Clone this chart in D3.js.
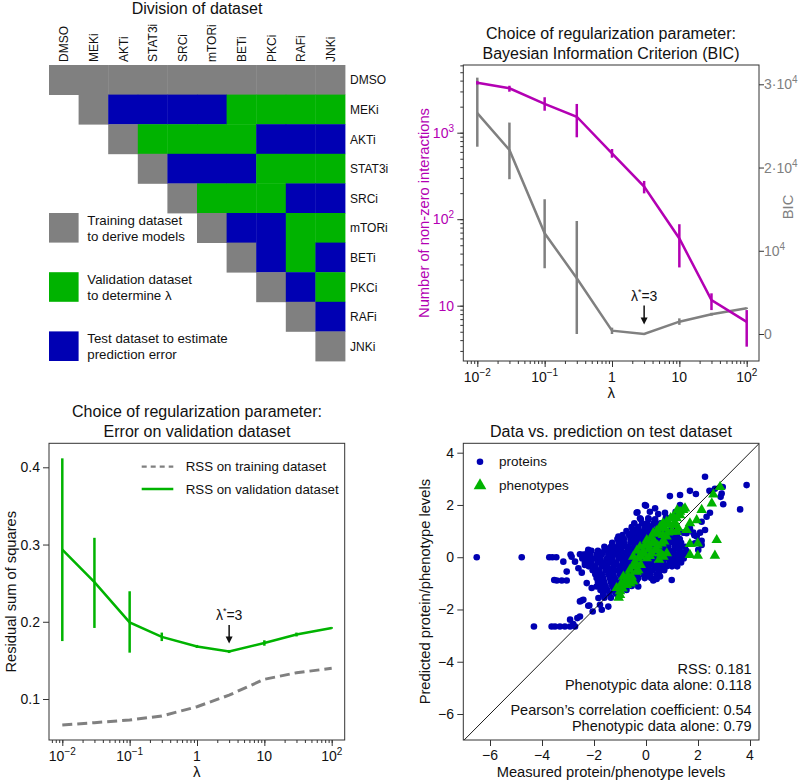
<!DOCTYPE html>
<html>
<head>
<meta charset="utf-8">
<script src="https://cdn.jsdelivr.net/npm/d3@7"></script>
<style>
  body { margin: 0; background: #fff; }
  svg { font-family: "Liberation Sans", Arial, Helvetica, sans-serif; }
  .axis path.domain { display: none; }
  .axis line { stroke: #333; }
</style>
</head>
<body>
<div id="chart"></div>
<script>
// ---------------- data ----------------
const conditions = ["DMSO", "MEKi", "AKTi", "STAT3i", "SRCi", "mTORi", "BETi", "PKCi", "RAFi", "JNKi"];
// one string per row, starting on the diagonal: t = training, v = validation, s = test
const divisionRows = ["tttttttttt", "tssssvvvv", "tvvvvsss", "tsssvvv", "tvvvss", "tssvv", "tsvs", "tsv", "ts", "t"];
const legendText = [
  ["Training dataset", "to derive models"],
  ["Validation dataset", "to determine λ"],
  ["Test dataset to estimate", "prediction error"]
];

const lambdas = [0.01, 0.03, 0.1, 0.3, 1, 3, 10, 30, 100];

// number of non-zero interactions (mean, low, high)
const nonZero   = [3780, 3260, 2150, 1530, 578, 238, 59.8, 11.6, 6.5];
const nonZeroLo = [3600, 2980, 1795, 885, 514, 199, 27.7, 8.9, 3.36];
const nonZeroHi = [3950, 3490, 2570, 2150, 648, 277, 87.5, 13.9, 8.9];

// BIC (mean, low, high)
const bicVal = [26530, 22110, 12100, 6700, 400, 0, 1480, 2370, 3090];
const bicLo  = [22500, 18600, 7900, 0, 0, -100, 1100, 2200, 3000];
const bicHi  = [30800, 25400, 16190, 13580, 760, 100, 1880, 2550, 3180];

// RSS on validation / training
const rssVal   = [0.2935, 0.2514, 0.1992, 0.1804, 0.168, 0.1615, 0.1726, 0.1834, 0.192];
const rssValLo = [0.175, 0.192, 0.160, 0.175, 0.166, 0.1595, 0.169, 0.181, 0.191];
const rssValHi = [0.4116, 0.3087, 0.2395, 0.186, 0.170, 0.1635, 0.176, 0.186, 0.193];
const rssTrain = [0.0663, 0.0693, 0.0728, 0.078, 0.090, 0.105, 0.1255, 0.134, 0.1397];

// scatter: proteins, scattered points
const proteinsSparse = [
  [-6.51, 0], [-4.78, 0], [-3.72, 0], [-3.6, 0], [-3.45, 0], [-3.18, -0.17], [-2.86, 0.02], [-3.05, -0.55],
  [-2.47, -0.59], [-2.73, -0.17], [-2.54, 0.11], [-2.22, 0.28], [-2.6, -0.42], [-3.53, -0.87], [-3.24, -0.89],
  [-3.05, -0.89], [-3.43, -0.89], [-1.30, 0.40], [-1.06, 0.79], [-0.33, 1.72], [0, 1.97], [0.35, 1.87],
  [-0.23, 1.49], [0.09, 1.49], [0.15, 1.74], [0.47, 1.65], [0.73, 1.70], [0.77, 1.53], [1.14, 1.74],
  [0.92, 2.34], [1.31, 2.0], [1.31, 2.38], [1.69, 2.54], [1.92, 2.42], [2.27, 3.08], [2.44, 2.54],
  [2.65, 2.62], [2.95, 2.69], [2.87, 2.31], [2.91, 2.44], [2.97, 2.03], [3.62, 1.83], [3.87, 2.76],
  [2.46, 1.70], [2.33, 1.55], [2.14, 1.36], [2.27, 1.04], [2.08, 0.94], [1.86, 0.84], [1.82, 0.94],
  [1.95, 0.79], [2.14, 0.63], [1.56, 0.92], [1.43, 0.94], [1.69, 1.11], [1.18, 1.11], [2.14, 0.47],
  [2.01, 0.28], [1.88, 0.53], [1.31, 0.53], [0.99, -0.87], [0.28, -0.89], [0.41, -0.83], [0.54, -0.74],
  [0.60, -0.45], [-0.30, -1.12], [0.35, 1.30], [0.60, 1.23], [0.15, 1.17], [-0.36, 1.70], [-0.04, 2.0],
  [-0.49, 1.04], [-2.28, -0.99], [-2.09, -1.18], [-1.9, -1.12], [-2.41, -1.63], [-2.54, -1.69],
  [-2.18, -1.85], [-1.77, -1.82], [-1.45, -1.89], [-1.70, -2.01], [-2.05, -2.08], [-2.54, -2.27],
  [-2.64, -2.33], [-2.92, -2.39], [-4.31, -2.65], [-3.63, -2.65], [-3.5, -2.65], [-3.31, -2.65],
  [-3.12, -2.65], [-2.92, -2.65], [-2.73, -2.65], [-2.8, -2.56], [-1.64, -1.44], [-1.58, -1.25],
  [-1.83, -1.56], [-2.47, -1.66], [-2.22, -1.86], [-2.9, 0.1], [-2.35, -0.3]
];
// scatter: proteins, dense cloud read row by row: [y, x, x, ...]
const proteinsDense = [
  [1.45, -0.2, 0.1, 0.35],
  [1.3, -0.45, -0.15, 0.05, 0.3, 0.55],
  [1.15, -0.55, -0.3, -0.05, 0.2, 0.45, 0.7],
  [1.0, -0.75, -0.5, -0.3, -0.1, 0.1, 0.3, 0.5, 0.75, 0.95],
  [0.85, -0.9, -0.65, -0.45, -0.25, -0.05, 0.15, 0.35, 0.55, 0.8, 1.0, 1.2],
  [0.7, -1.1, -0.85, -0.6, -0.4, -0.2, 0.0, 0.2, 0.4, 0.6, 0.85, 1.05, 1.3],
  [0.55, -1.3, -1.05, -0.85, -0.6, -0.4, -0.2, 0.05, 0.25, 0.45, 0.7, 0.9, 1.1, 1.35],
  [0.4, -1.6, -1.35, -1.1, -0.9, -0.7, -0.45, -0.25, 0.0, 0.2, 0.45, 0.65, 0.85, 1.1, 1.3, 1.5],
  [0.25, -2.1, -1.85, -1.6, -1.4, -1.15, -0.95, -0.7, -0.5, -0.3, -0.05, 0.15, 0.4, 0.6, 0.85, 1.05, 1.3, 1.55],
  [0.1, -2.4, -2.15, -1.9, -1.7, -1.45, -1.2, -1.0, -0.75, -0.55, -0.3, -0.1, 0.15, 0.35, 0.6, 0.8, 1.05, 1.25, 1.5],
  [-0.05, -2.45, -2.2, -2.0, -1.75, -1.5, -1.3, -1.05, -0.8, -0.6, -0.35, -0.15, 0.1, 0.3, 0.55, 0.75, 1.0, 1.2, 1.45],
  [-0.2, -2.35, -2.1, -1.85, -1.6, -1.4, -1.15, -0.9, -0.7, -0.45, -0.25, 0.0, 0.2, 0.45, 0.65, 0.9, 1.1, 1.35],
  [-0.35, -2.2, -1.95, -1.7, -1.5, -1.25, -1.0, -0.8, -0.55, -0.35, -0.1, 0.1, 0.35, 0.55, 0.8, 1.0, 1.2],
  [-0.5, -2.05, -1.8, -1.55, -1.3, -1.1, -0.85, -0.65, -0.4, -0.2, 0.05, 0.25, 0.5, 0.7],
  [-0.65, -1.95, -1.7, -1.45, -1.25, -1.0, -0.8, -0.55, -0.35, -0.1, 0.15, 0.4],
  [-0.8, -1.9, -1.65, -1.4, -1.2, -0.95, -0.75, -0.5, -0.3, -0.05, 0.2],
  [-0.95, -1.85, -1.6, -1.35, -1.15, -0.9, -0.65, -0.4],
  [-1.1, -1.8, -1.55, -1.3, -1.05, -0.8, -0.55],
  [-1.25, -1.75, -1.5, -1.25, -1.0, -0.75],
  [-1.4, -1.65, -1.4, -1.15],
  [-1.55, -1.6, -1.35]
];
// scatter: proteins, the filled core between the rows above
const proteinsCore = [
  [0.92, -0.55, -0.15, 0.25, 0.65],
  [0.62, -0.95, -0.5, -0.1, 0.35, 0.8, 1.2],
  [0.32, -1.5, -1.0, -0.6, -0.15, 0.3, 0.75, 1.2],
  [0.17, -2.25, -1.75, -1.3, -0.85, -0.4, 0.05, 0.5, 0.95, 1.4],
  [0.02, -2.3, -1.85, -1.4, -0.95, -0.5, -0.05, 0.45, 0.9, 1.35],
  [-0.12, -2.25, -1.75, -1.3, -0.8, -0.35, 0.1, 0.55, 1.0, 1.25],
  [-0.28, -2.1, -1.65, -1.2, -0.75, -0.3, 0.2, 0.65, 1.1],
  [-0.43, -1.95, -1.45, -1.0, -0.5, 0.0, 0.45],
  [-0.58, -1.85, -1.35, -0.9, -0.45, 0.05, 0.5],
  [-0.73, -1.8, -1.3, -0.85, -0.4, 0.1],
  [-0.88, -1.75, -1.25, -0.8, -0.35],
  [-1.03, -1.7, -1.2, -0.7],
  [-1.18, -1.65, -1.15, -0.9]
];
// scatter: phenotypes
const phenotypes = [
  [-1.0, -1.44], [-1.13, -1.18], [-0.74, -1.06], [-0.49, -0.93], [-0.36, -0.55], [-0.42, -0.17], [-0.30, -0.04],
  [-1.0, -1.3], [-0.9, -1.2], [-0.6, -1.0], [-0.87, -0.74], [-0.62, -0.48], [-0.42, -0.23], [-0.49, 0.02],
  [-0.23, 0.40], [0.03, 0.66], [0.28, 0.92], [0.54, 1.17], [0.79, 1.36], [1.05, 1.55], [1.31, 1.74],
  [0.03, -0.04], [0.22, 0.15], [0.41, 0.28], [0.60, 0.53], [0.79, 0.79], [0.99, 0.98], [1.05, 1.23],
  [1.18, 1.49], [1.31, 1.61], [1.43, 1.81], [1.69, 1.30], [1.95, 1.42], [2.14, 1.81], [2.53, 2.06],
  [2.59, 2.4], [2.85, 2.69], [1.18, 0.98], [1.56, 1.04], [1.5, 1.87], [1.24, 1.11], [0.54, 0.15],
  [0.35, 0.28], [0.67, 0.02], [1.69, 0.09], [1.99, 0.06], [1.69, 0.51], [1.99, 0.53], [2.65, 0.06],
  [2.72, 0.66], [-0.1, 0.2], [-0.2, -0.3], [0.1, 0.45], [0.3, 0.6], [0.5, 0.9], [0.7, 1.1], [0.9, 1.25],
  [-0.7, -0.7], [-0.8, -0.9], [-0.55, -0.75], [-0.3, -0.5], [0.15, 0.05], [0.45, 0.45], [0.7, 0.6],
  [0.85, 0.95], [1.1, 1.35], [-1.05, -1.55], [-0.15, 0.15], [0.6, 0.1], [0.5, -0.1], [0.8, 0.15],
  [-0.95, -1.0], [-0.75, -0.85], [-0.5, -0.35], [-0.35, 0.25], [-0.05, 0.45], [0.2, 0.75], [0.4, 1.0],
  [0.65, 1.3], [0.95, 1.5], [1.2, 1.8], [-0.2, 0.05], [0.1, 0.3], [0.35, 0.55], [0.65, 0.85]
];
const statsText = ["RSS: 0.181", "Phenotypic data alone: 0.118", "Pearson\u2019s correlation coefficient: 0.54", "Phenotypic data alone: 0.79"];

// ---------------- colours ----------------
const grey = "#808080", green = "#00b300", blue = "#0000b3", magenta = "#b300b3", ink = "#111";

const svg = d3.select("#chart").append("svg")
  .attr("width", 800).attr("height", 783);

// helper: "10" with a superscript exponent
function powText(sel, base, exp) {
  sel.append("tspan").text(base);
  if (exp) sel.append("tspan").attr("dy", -6).attr("font-size", "10px").text(exp);
}
function lambdaStar(g, x, y) {
  const t = g.append("text").attr("x", x).attr("y", y).attr("text-anchor", "middle")
    .attr("font-size", "14px").attr("fill", ink);
  t.append("tspan").text("λ");
  t.append("tspan").attr("dy", -6).attr("font-size", "9px").text("*");
  t.append("tspan").attr("dy", 6).text("=3");
}
function arrowDown(g, x, y0, y1) {
  g.append("line").attr("x1", x).attr("x2", x).attr("y1", y0).attr("y2", y1 - 5)
    .attr("stroke", ink).attr("stroke-width", 1.5);
  g.append("path").attr("d", `M${x - 3.5},${y1 - 7}L${x + 3.5},${y1 - 7}L${x},${y1}Z`).attr("fill", ink);
}
function frame(g, f) {
  g.append("rect").attr("x", f.x0).attr("y", f.y0).attr("width", f.x1 - f.x0).attr("height", f.y1 - f.y0)
    .attr("fill", "none").attr("stroke", "#333").attr("stroke-width", 1);
}
const lambdaLabels = [[0.01, "10", "\u22122"], [0.1, "10", "\u22121"], [1, "1", ""], [10, "10", ""], [100, "10", "2"]];

// log x axis shared by panels B and C
function lambdaAxis(g, x, f) {
  const minor = d3.scaleLog().domain([x.invert(f.x0), x.invert(f.x1)]).ticks()
    .filter(v => x(v) >= f.x0 && x(v) <= f.x1);
  g.append("g").attr("class", "axis").attr("transform", `translate(0,${f.y1})`)
    .call(d3.axisBottom(x).tickValues(minor).tickSize(3).tickSizeOuter(0).tickFormat(""));
  g.append("g").attr("class", "axis").attr("transform", `translate(0,${f.y1})`)
    .call(d3.axisBottom(x).tickValues(lambdas.filter((v, i) => i % 2 === 0)).tickSize(6).tickSizeOuter(0).tickFormat(""));
  lambdaLabels.forEach(([v, b, e]) => {
    const t = g.append("text").attr("x", x(v)).attr("y", f.y1 + 20.5).attr("text-anchor", "middle")
      .attr("font-size", "14px").attr("fill", ink);
    powText(t, b, e);
  });
  g.append("text").attr("x", (f.x0 + f.x1) / 2).attr("y", f.y1 + 37).attr("text-anchor", "middle")
    .attr("font-size", "15px").attr("fill", ink).text("λ");
}

// ================= Panel A: division of dataset =================
const gA = svg.append("g");
const colX = d3.scaleBand().domain(conditions).range([49, 345]);
const rowY = d3.scaleBand().domain(conditions).range([65, 361]);
const kindFill = { t: grey, v: green, s: blue };
const cells = [];
divisionRows.forEach((r, i) => r.split("").forEach((c, k) =>
  cells.push({ row: conditions[i], col: conditions[i + k], kind: c })));

gA.append("text").attr("x", 197).attr("y", 13.5).attr("text-anchor", "middle")
  .attr("font-size", "16px").attr("fill", ink).text("Division of dataset");

gA.append("g").selectAll("rect").data(cells).join("rect")
  .attr("x", d => colX(d.col)).attr("y", d => rowY(d.row))
  .attr("width", colX.bandwidth() + 0.4).attr("height", rowY.bandwidth() + 0.4)
  .attr("fill", d => kindFill[d.kind]);

gA.append("g").selectAll("text").data(conditions).join("text")
  .attr("transform", d => `translate(${colX(d) + colX.bandwidth() / 2 + 4.5},62) rotate(-90)`)
  .attr("font-size", "12px").attr("fill", ink).text(d => d);

gA.append("g").selectAll("text").data(conditions).join("text")
  .attr("x", 350).attr("y", d => rowY(d) + rowY.bandwidth() / 2 + 4.5)
  .attr("font-size", "12px").attr("fill", ink).text(d => d);

// legend squares sit on the rows mTORi, PKCi and JNKi
const legendRows = ["mTORi", "PKCi", "JNKi"];
["t", "v", "s"].forEach((k, i) => {
  const y = rowY(legendRows[i]);
  gA.append("rect").attr("x", colX("DMSO")).attr("y", y)
    .attr("width", colX.bandwidth()).attr("height", rowY.bandwidth()).attr("fill", kindFill[k]);
  legendText[i].forEach((line, j) => {
    gA.append("text").attr("x", 87.3).attr("y", y + 12 + j * 15.8)
      .attr("font-size", "13.3px").attr("fill", ink).text(line);
  });
});

// ================= Panel B: BIC =================
const gB = svg.append("g");
const fB = { x0: 463.3, x1: 759, y0: 65, y1: 361 };
const xB = d3.scaleLog().domain([0.01, 100]).range([477.3, 746.7]);
const yN = d3.scaleLog().domain([10, 1000]).range([305.7, 132.7]);
const yBic = d3.scaleLinear().domain([0, 30000]).range([334, 84.3]);

gB.append("text").attr("x", 611).attr("y", 38.5).attr("text-anchor", "middle")
  .attr("font-size", "16px").attr("fill", ink).text("Choice of regularization parameter:");
gB.append("text").attr("x", 611).attr("y", 58.5).attr("text-anchor", "middle")
  .attr("font-size", "16px").attr("fill", ink).text("Bayesian Information Criterion (BIC)");

frame(gB, fB);
lambdaAxis(gB, xB, fB);

// left log axis
const nMinor = d3.scaleLog().domain([yN.invert(fB.y1), yN.invert(fB.y0)]).ticks()
  .filter(v => yN(v) >= fB.y0 && yN(v) <= fB.y1);
gB.append("g").attr("class", "axis").attr("transform", `translate(${fB.x0},0)`)
  .call(d3.axisLeft(yN).tickValues(nMinor).tickSize(3).tickSizeOuter(0).tickFormat(""));
gB.append("g").attr("class", "axis").attr("transform", `translate(${fB.x0},0)`)
  .call(d3.axisLeft(yN).tickValues([10, 100, 1000]).tickSize(6).tickSizeOuter(0).tickFormat(""));
[[1000, "10", "3"], [100, "10", "2"], [10, "10", ""]].forEach(([v, b, e]) => {
  const t = gB.append("text").attr("x", 454).attr("y", yN(v) + 5).attr("text-anchor", "end")
    .attr("font-size", "14px").attr("fill", magenta);
  powText(t, b, e);
});
gB.append("text").attr("transform", `translate(429,213) rotate(-90)`).attr("text-anchor", "middle")
  .attr("font-size", "14.7px").attr("fill", magenta).text("Number of non-zero interactions");

// right linear axis
gB.append("g").attr("class", "axis").attr("transform", `translate(${fB.x1},0)`)
  .call(d3.axisRight(yBic).tickValues([0, 10000, 20000, 30000]).tickSize(5).tickSizeOuter(0).tickFormat(""))
  .selectAll("line").attr("stroke", grey);
[[30000, "3\u00b710", "4"], [20000, "2\u00b710", "4"], [10000, "10", "4"], [0, "0", ""]].forEach(([v, b, e]) => {
  const t = gB.append("text").attr("x", 764).attr("y", yBic(v) + 5)
    .attr("font-size", "14px").attr("fill", grey);
  powText(t, b, e);
});
gB.append("text").attr("transform", `translate(793,207) rotate(-90)`).attr("text-anchor", "middle")
  .attr("font-size", "14.7px").attr("fill", grey).text("BIC");

// grey BIC line + error bars
gB.append("path").datum(lambdas).attr("fill", "none").attr("stroke", grey).attr("stroke-width", 2.5)
  .attr("d", d3.line().x(d => xB(d)).y((d, i) => yBic(bicVal[i])));
gB.append("g").selectAll("line").data(lambdas).join("line")
  .attr("x1", d => xB(d)).attr("x2", d => xB(d))
  .attr("y1", (d, i) => yBic(bicLo[i])).attr("y2", (d, i) => yBic(bicHi[i]))
  .attr("stroke", grey).attr("stroke-width", 2.5);

// magenta non-zero line + error bars
gB.append("path").datum(lambdas).attr("fill", "none").attr("stroke", magenta).attr("stroke-width", 2.5)
  .attr("d", d3.line().x(d => xB(d)).y((d, i) => yN(nonZero[i])));
gB.append("g").selectAll("line").data(lambdas).join("line")
  .attr("x1", d => xB(d)).attr("x2", d => xB(d))
  .attr("y1", (d, i) => yN(nonZeroLo[i])).attr("y2", (d, i) => yN(nonZeroHi[i]))
  .attr("stroke", magenta).attr("stroke-width", 2.5);

lambdaStar(gB, xB(3), 300.7);
arrowDown(gB, xB(3), 305.5, 324.5);

// ================= Panel C: validation error =================
const gC = svg.append("g");
const fC = { x0: 49, x1: 344.7, y0: 443.3, y1: 740 };
const xC = d3.scaleLog().domain([0.01, 100]).range([62.3, 331.7]);
const yC = d3.scaleLinear().domain([0.1, 0.4]).range([699, 467.3]);

gC.append("text").attr("x", 197).attr("y", 417).attr("text-anchor", "middle")
  .attr("font-size", "16px").attr("fill", ink).text("Choice of regularization parameter:");
gC.append("text").attr("x", 197).attr("y", 437.3).attr("text-anchor", "middle")
  .attr("font-size", "16px").attr("fill", ink).text("Error on validation dataset");

frame(gC, fC);
lambdaAxis(gC, xC, fC);

gC.append("g").attr("class", "axis").attr("transform", `translate(${fC.x0},0)`)
  .call(d3.axisLeft(yC).tickValues([0.1, 0.2, 0.3, 0.4]).tickSize(6).tickSizeOuter(0).tickFormat(""));
gC.append("g").selectAll("text").data([0.1, 0.2, 0.3, 0.4]).join("text")
  .attr("x", 40).attr("y", d => yC(d) + 5).attr("text-anchor", "end")
  .attr("font-size", "14px").attr("fill", ink).text(d => d3.format(".1f")(d));
gC.append("text").attr("transform", `translate(16,591.7) rotate(-90)`).attr("text-anchor", "middle")
  .attr("font-size", "14.7px").attr("fill", ink).text("Residual sum of squares");

gC.append("path").datum(lambdas).attr("fill", "none").attr("stroke", grey).attr("stroke-width", 3)
  .attr("stroke-dasharray", "10,5")
  .attr("d", d3.line().x(d => xC(d)).y((d, i) => yC(rssTrain[i])));
gC.append("path").datum(lambdas).attr("fill", "none").attr("stroke", green).attr("stroke-width", 2.5)
  .attr("d", d3.line().x(d => xC(d)).y((d, i) => yC(rssVal[i])));
gC.append("g").selectAll("line").data(lambdas).join("line")
  .attr("x1", d => xC(d)).attr("x2", d => xC(d))
  .attr("y1", (d, i) => yC(rssValLo[i])).attr("y2", (d, i) => yC(rssValHi[i]))
  .attr("stroke", green).attr("stroke-width", 2.5);

lambdaStar(gC, xC(3), 620);
arrowDown(gC, xC(3), 625, 643.5);

// legend
gC.append("line").attr("x1", 141.7).attr("x2", 173.3).attr("y1", 466.7).attr("y2", 466.7)
  .attr("stroke", grey).attr("stroke-width", 2.2).attr("stroke-dasharray", "5,4");
gC.append("text").attr("x", 185.7).attr("y", 471.3).attr("font-size", "13.3px").attr("fill", ink)
  .text("RSS on training dataset");
gC.append("line").attr("x1", 141.7).attr("x2", 173.3).attr("y1", 489).attr("y2", 489)
  .attr("stroke", green).attr("stroke-width", 2.5);
gC.append("text").attr("x", 185.7).attr("y", 493.5).attr("font-size", "13.3px").attr("fill", ink)
  .text("RSS on validation dataset");

// ================= Panel D: scatter =================
const gD = svg.append("g");
const fD = { x0: 463.3, x1: 759, y0: 443.3, y1: 740 };
const xD = d3.scaleLinear().domain([-6, 4]).range([490, 750]);
const yD = d3.scaleLinear().domain([-6, 4]).range([714, 452.7]);

gD.append("text").attr("x", 611).attr("y", 436.7).attr("text-anchor", "middle")
  .attr("font-size", "16px").attr("fill", ink).text("Data vs. prediction on test dataset");

svg.append("defs").append("clipPath").attr("id", "clipD").append("rect")
  .attr("x", fD.x0).attr("y", fD.y0).attr("width", fD.x1 - fD.x0).attr("height", fD.y1 - fD.y0);

const ticksD = [-6, -4, -2, 0, 2, 4];
gD.append("g").attr("class", "axis").attr("transform", `translate(0,${fD.y1})`)
  .call(d3.axisBottom(xD).tickValues(ticksD).tickSize(6).tickSizeOuter(0).tickFormat(""));
gD.append("g").attr("class", "axis").attr("transform", `translate(${fD.x0},0)`)
  .call(d3.axisLeft(yD).tickValues(ticksD).tickSize(6).tickSizeOuter(0).tickFormat(""));
const fmtD = d => d < 0 ? "\u2212" + Math.abs(d) : String(d);
gD.append("g").selectAll("text").data(ticksD).join("text")
  .attr("x", d => xD(d)).attr("y", 760).attr("text-anchor", "middle")
  .attr("font-size", "14px").attr("fill", ink).text(fmtD);
gD.append("g").selectAll("text").data(ticksD).join("text")
  .attr("x", 454).attr("y", d => yD(d) + 5).attr("text-anchor", "end")
  .attr("font-size", "14px").attr("fill", ink).text(fmtD);
gD.append("text").attr("x", 611).attr("y", 776.5).attr("text-anchor", "middle")
  .attr("font-size", "14.7px").attr("fill", ink).text("Measured protein/phenotype levels");
gD.append("text").attr("transform", `translate(430,591.7) rotate(-90)`).attr("text-anchor", "middle")
  .attr("font-size", "14.7px").attr("fill", ink).text("Predicted protein/phenotype levels");

const plotD = gD.append("g").attr("clip-path", "url(#clipD)");
const rowsToPairs = rows => rows.flatMap(r => r.slice(1).map(x => [x, r[0]]));
const proteins = proteinsSparse.concat(rowsToPairs(proteinsDense), rowsToPairs(proteinsCore));
plotD.append("g").selectAll("circle").data(proteins).join("circle")
  .attr("cx", d => xD(d[0])).attr("cy", d => yD(d[1])).attr("r", 3.3).attr("fill", blue);
plotD.append("line")
  .attr("x1", xD(-8)).attr("y1", yD(-8)).attr("x2", xD(5)).attr("y2", yD(5))
  .attr("stroke", "#000").attr("stroke-width", 0.9);
const tri = d3.symbol(d3.symbolTriangle, 48);
plotD.append("g").selectAll("path").data(phenotypes).join("path")
  .attr("transform", d => `translate(${xD(d[0])},${yD(d[1])})`).attr("d", tri).attr("fill", green);

frame(gD, fD);

// legend
gD.append("circle").attr("cx", 480).attr("cy", 461.7).attr("r", 3.3).attr("fill", blue);
gD.append("text").attr("x", 499).attr("y", 466.3).attr("font-size", "13.5px").attr("fill", ink).text("proteins");
gD.append("path").attr("transform", "translate(480,485.5)").attr("d", d3.symbol(d3.symbolTriangle, 70)).attr("fill", green);
gD.append("text").attr("x", 499).attr("y", 489.5).attr("font-size", "13.5px").attr("fill", ink).text("phenotypes");

// stats text
[674, 690, 715, 731].forEach((y, i) => {
  gD.append("text").attr("x", 751.7).attr("y", y).attr("text-anchor", "end")
    .attr("font-size", "14.5px").attr("fill", ink).text(statsText[i]);
});
</script>
</body>
</html>
